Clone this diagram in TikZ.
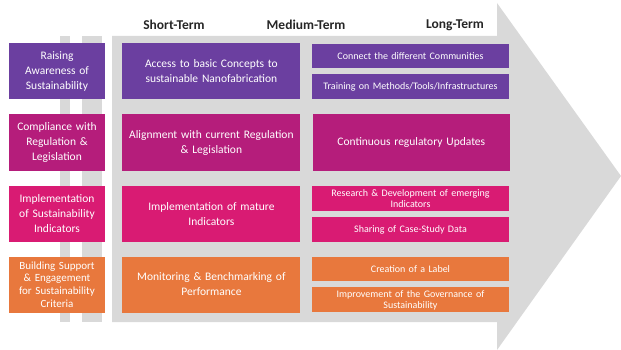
\documentclass[tikz,border=0pt]{standalone}
\usepackage{fontspec}
\setmainfont{Carlito}
\usetikzlibrary{positioning}
\definecolor{purp}{HTML}{6B3FA0}
\definecolor{mag}{HTML}{B51D7B}
\definecolor{pink}{HTML}{D91B73}
\definecolor{orng}{HTML}{E8783D}
\definecolor{arrowgray}{HTML}{D9D9D9}
\definecolor{headgray}{HTML}{262626}
\tikzstyle{goal} = [rectangle, minimum width=96pt, minimum height=56pt, text width=92pt, align=center, inner sep=0pt, text=white, font=\fontsize{11.5}{15}\selectfont]
\tikzstyle{action} = [rectangle, minimum width=178pt, minimum height=56pt, text width=172pt, align=center, inner sep=0pt, text=white, font=\fontsize{11.5}{15}\selectfont]
\tikzstyle{sub} = [rectangle, minimum width=197pt, minimum height=25pt, text width=194pt, align=center, inner sep=0pt, text=white, font=\fontsize{10}{11}\selectfont]
\tikzstyle{term} = [font=\bfseries\fontsize{13.5}{15}\selectfont, text=headgray]

\begin{document}
\begin{tikzpicture}[x=1pt, y=-1pt, node distance=6pt]
 \useasboundingbox (0,0) rectangle (621,350);
 % big arrow and the two strips
 \fill[arrowgray] (112,36) -- (497,36) -- (497,3) -- (621,176) -- (497,350) -- (497,322) -- (112,322) -- cycle;
 \fill[arrowgray] (60,36) rectangle (70,322);
 \fill[arrowgray] (82,36) rectangle (102,322);

 % terms
 \node (short) [term] at (174,25) {Short-Term};
 \node (medium) [term] at (306,25) {Medium-Term};
 \node (long) [term] at (455,25) {Long-Term};

 % awareness
 \node (aware) [goal, fill=purp] at (57,71) {Raising\\Awareness of\\Sustainability};
 \node (access) [action, fill=purp, right=17pt of aware] {Access to basic Concepts to\\sustainable Nanofabrication};
 \node (connect) [sub, fill=purp, minimum height=24pt] at (410.5,56) {Connect the different Communities};
 \node (training) [sub, fill=purp, below=of connect] {Training on Methods/Tools/Infrastructures};

 % regulation
 \node (comply) [goal, fill=mag] at (57,142.5) {Compliance with\\Regulation \&\\Legislation};
 \node (align) [action, fill=mag, right=17pt of comply] {Alignment with current Regulation\\\& Legislation};
 \node (updates) [action, fill=mag, minimum width=197pt, text width=193pt, right=12pt of align] {Continuous regulatory Updates};

 % indicators
 \node (indic) [goal, fill=pink] at (57,214) {Implementation\\of Sustainability\\Indicators};
 \node (mature) [action, fill=pink, right=17pt of indic] {Implementation of mature\\Indicators};
 \node (research) [sub, fill=pink] at (410.5,198.5) {Research \& Development of emerging\\Indicators};
 \node (sharing) [sub, fill=pink, below=of research] {Sharing of Case-Study Data};

 % support
 \node (support) [goal, fill=orng, font=\fontsize{11}{12.7}\selectfont] at (57,284.5) {Building Support\\\& Engagement\\for Sustainability\\Criteria};
 \node (monitor) [action, fill=orng, right=17pt of support] {Monitoring \& Benchmarking of\\Performance};
 \node (label) [sub, fill=orng, minimum height=24pt] at (410.5,269) {Creation of a Label};
 \node (govern) [sub, fill=orng, below=of label] {Improvement of the Governance of\\Sustainability};
\end{tikzpicture}
\end{document}
